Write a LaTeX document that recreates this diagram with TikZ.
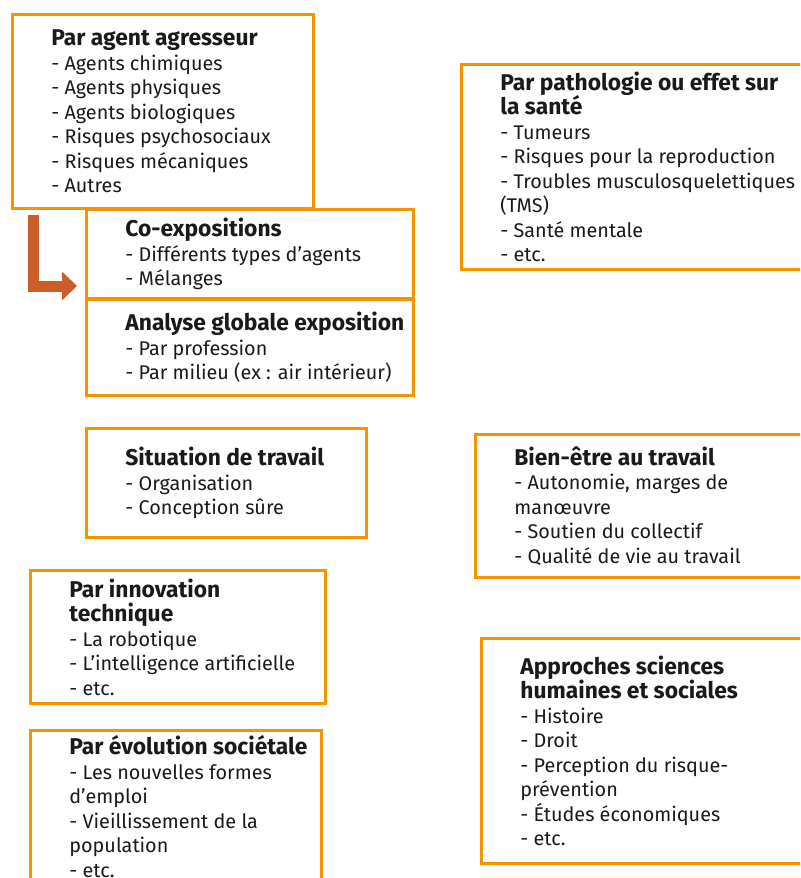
\documentclass[tikz,border=0pt]{standalone}
\usepackage{fontspec}
\setmainfont{Fira Sans}
\usepackage{tikz}
\usetikzlibrary{arrows.meta,positioning}
\definecolor{boxorange}{RGB}{243,148,0}
\definecolor{arrowrust}{RGB}{203,94,40}
\definecolor{ink}{RGB}{26,26,26}
\newcommand{\hd}[1]{{\bfseries\fontsize{11.4}{12.25}\selectfont #1}}

\begin{document}
\begin{tikzpicture}[x=0.5pt,y=-0.5pt,
  box/.style={draw=boxorange,line width=1.5pt,anchor=north west,inner sep=0pt},
  txt/.style={align=left,inner sep=0pt,text=ink,font=\fontsize{9.9}{12.25}\selectfont},
  flow/.style={draw=arrowrust,line width=5.5pt,-{Triangle[length=7.5pt,width=14pt]}}]
\useasboundingbox (0,0) rectangle (800,878);
\clip (0,0) rectangle (800,878);
% left column
\node[box,minimum width=150.5pt,minimum height=97pt] (agent) at (11,13) {};
\node[txt,right=20pt of agent.west] (agenttxt) {\hd{Par agent agresseur}\\- Agents chimiques\\- Agents physiques\\- Agents biologiques\\- Risques psychosociaux\\- Risques mécaniques\\- Autres};
\node[box,minimum width=163.5pt,minimum height=44.5pt] (coexpo) at (85,208) {};
\node[txt,right=20pt of coexpo.west] (coexpotxt) {\hd{Co-expositions}\\- Différents types d’agents\\- Mélanges};
\node[box,minimum width=163.5pt,minimum height=48pt] (globale) at (85,298) {};
\node[txt,right=20pt of globale.west] (globaletxt) {\hd{Analyse globale exposition}\\- Par profession\\- Par milieu (ex~: air intérieur)};
\node[box,minimum width=140pt,minimum height=54.5pt] (situation) at (85,427) {};
\node[txt,right=20pt of situation.west] (situationtxt) {\hd{Situation de travail}\\- Organisation\\- Conception sûre};
\node[box,minimum width=147.5pt,minimum height=66.5pt] (innov) at (29,569) {};
\node[txt,right=20pt of innov.west] (innovtxt) {\hd{Par innovation}\\\hd{technique}\\- La robotique\\- L’intelligence artificielle\\- etc.};
\node[box,minimum width=145.5pt,minimum height=76pt] (societe) at (29,729) {};
\node[txt,right=20pt of societe.west] (societetxt) {\hd{Par évolution sociétale}\\- Les nouvelles formes\\d’emploi\\- Vieillissement de la\\population\\- etc.};
% right column
\node[box,minimum width=190pt,minimum height=102.5pt] (patho) at (460,63) {};
\node[txt,right=20pt of patho.west] (pathotxt) {\hd{Par pathologie ou effet sur}\\\hd{la santé}\\- Tumeurs\\- Risques pour la reproduction\\- Troubles musculosquelettiques\\(TMS)\\- Santé mentale\\- etc.};
\node[box,minimum width=180pt,minimum height=71.5pt] (bienetre) at (474,433) {};
\node[txt,right=20pt of bienetre.west] (bienetretxt) {\hd{Bien-être au travail}\\- Autonomie, marges de\\manœuvre\\- Soutien du collectif\\- Qualité de vie au travail};
\node[box,minimum width=180pt,minimum height=112.5pt] (shs) at (480,637) {};
\node[txt,right=20pt of shs.west] (shstxt) {\hd{Approches sciences}\\\hd{humaines et sociales}\\- Histoire\\- Droit\\- Perception du risque-\\prévention\\- Études économiques\\- etc.};
% arrow
\coordinate (bend) at (33,215);
\coordinate (tip) at (77,286);
\draw[flow] (bend) |- (tip);
\end{tikzpicture}
\end{document}
